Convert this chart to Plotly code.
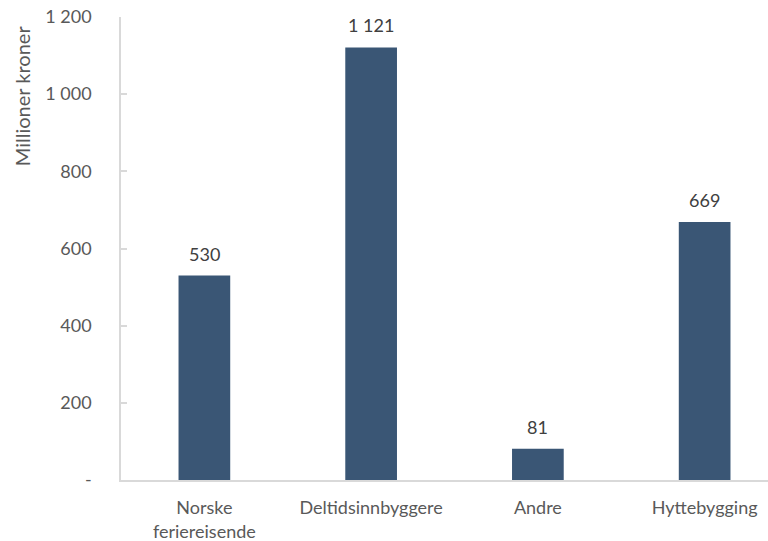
import plotly.graph_objects as go

categories = ["Norske<br>feriereisende", "Deltidsinnbyggere", "Andre", "Hyttebygging"]
values = [530, 1121, 81, 669]
value_labels = ["530", "1 121", "81", "669"]
tick_vals = [0, 200, 400, 600, 800, 1000, 1200]
tick_text = ["-", "200", "400", "600", "800", "1 000", "1 200"]
y_title = "Millioner kroner"

FONT = "Lato"
GREY = "#595959"

xs = list(range(len(categories)))

fig = go.Figure(go.Bar(
    x=xs,
    y=values,
    width=0.31,
    marker=dict(color="#3a5675", line=dict(width=0)),
    hoverinfo="skip",
))

for x, v, t in zip(xs, values, value_labels):
    fig.add_annotation(x=x, y=v, text=t, showarrow=False, yanchor="bottom",
                       yshift=9, font=dict(family=FONT, size=18, color="#404040"))

fig.add_annotation(xref="paper", yref="paper", x=-0.153, y=0.829, text=y_title,
                   textangle=-90, showarrow=False, xanchor="center", yanchor="middle",
                   font=dict(family=FONT, size=20, color=GREY))

fig.update_layout(
    width=768, height=541,
    margin=dict(l=121, r=0, t=17, b=61, autoexpand=False),
    paper_bgcolor="white", plot_bgcolor="white",
    showlegend=False,
    font=dict(family=FONT, color=GREY),
    xaxis=dict(
        range=[-0.5, 3.38],
        tickvals=xs,
        ticktext=categories,
        tickfont=dict(family=FONT, size=18, color=GREY),
        ticklabeloverflow="allow",
        automargin=False,
        showline=True, linecolor="#d9d9d9", linewidth=1.5,
        showgrid=False, zeroline=False, ticks="",
        ticklabelstandoff=11,
    ),
    yaxis=dict(
        range=[0, 1200],
        tickvals=tick_vals,
        ticktext=tick_text,
        tickfont=dict(family=FONT, size=18, color=GREY),
        ticklabeloverflow="allow",
        automargin=False,
        showline=True, linecolor="#d9d9d9", linewidth=1.5,
        ticks="inside", ticklen=6, tickcolor="#d9d9d9", tickwidth=1.5,
        showgrid=False, zeroline=False,
        ticklabelstandoff=24,
    ),
)

fig.write_html(
    "out.html",
    config={"displayModeBar": False},
    post_script="document.body.style.margin='0';document.body.style.overflow='hidden';",
)
